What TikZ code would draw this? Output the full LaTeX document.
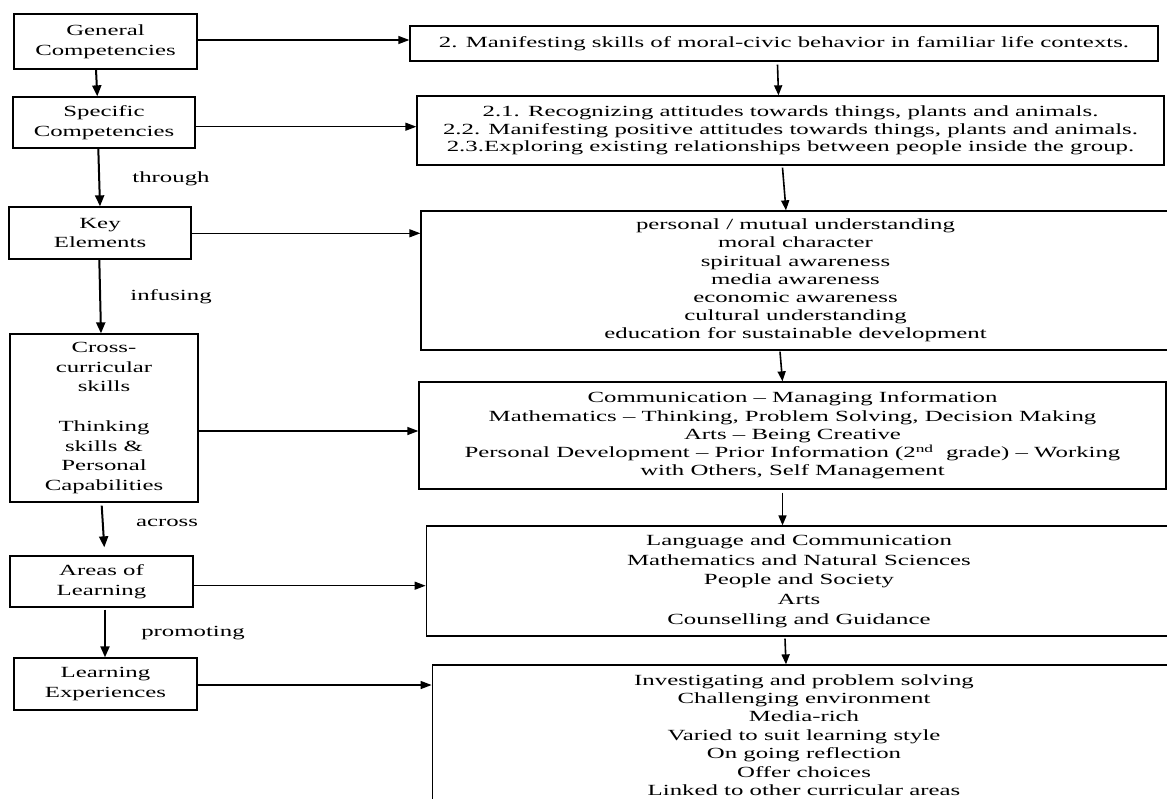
\documentclass[tikz,border=0pt]{standalone}
\usepackage{fontspec}
\setmainfont{Liberation Serif}[FakeStretch=1.6]
\usetikzlibrary{arrows.meta,calc}
\begin{document}
\begin{tikzpicture}[x=1pt,y=-1pt,
  lbox/.style={draw,line width=1.3pt,inner sep=0pt,align=center,font=\fontsize{15.5}{19.7}\selectfont},
  rbox/.style={draw,line width=1.3pt,inner sep=0pt,align=center,font=\fontsize{15.5}{18.2}\selectfont},
  lbl/.style={inner sep=0pt,font=\fontsize{15.5}{18}\selectfont},
  harr/.style={line width=1.3pt,-{Triangle[length=11pt,width=8pt]}},
  varr/.style={line width=2pt,-{Triangle[length=11pt,width=9pt]}},
  rarr/.style={line width=1.6pt,-{Triangle[length=10pt,width=8pt]}}]
\clip (0,0) rectangle (1167,798);
\fill[white] (0,0) rectangle (1167,798);
% left column
\node[lbox,minimum width=183pt,minimum height=55pt] (GC) at (105.5,41.5) {General\\Competencies};
\node[lbox,minimum width=182pt,minimum height=51pt] (SC) at (104,122.5) {Specific\\Competencies};
\node[lbox,minimum width=182pt,minimum height=52pt] (KE) at (100,233) {Key\\Elements};
\node[lbox,minimum width=188pt,minimum height=168pt] (CC) at (104,418) {Cross-\\curricular\\skills\\[19.7pt]Thinking\\skills \&\\Personal\\Capabilities};
\node[lbox,minimum width=183pt,minimum height=51pt] (AL) at (101.5,581.5) {Areas of\\Learning};
\node[lbox,minimum width=183pt,minimum height=52pt] (LE) at (105.5,684) {Learning\\Experiences};
% right column
\node[rbox,minimum width=748pt,minimum height=35pt] (R1) at (784,43.5) {2. Manifesting skills of moral-civic behavior in familiar life contexts.};
\node[rbox,font=\fontsize{15.5}{17.6}\selectfont,minimum width=747pt,minimum height=69pt] (R2) at (790.5,130.5) {2.1. Recognizing attitudes towards things, plants and animals.\\2.2. Manifesting positive attitudes towards things, plants and animals.\\2.3.Exploring existing relationships between people inside the group.};
\node[rbox,minimum width=749pt,minimum height=139pt] (R3) at (795.5,280.5) {personal / mutual understanding\\moral character\\spiritual awareness\\media awareness\\economic awareness\\cultural understanding\\education for sustainable development};
\node[rbox,minimum width=747pt,minimum height=107pt] (R4) at (792.5,435.5) {Communication -- Managing Information\\Mathematics -- Thinking, Problem Solving, Decision Making\\Arts -- Being Creative\\Personal Development -- Prior Information (2\textsuperscript{nd}\ \ grade) -- Working\\with Others, Self Management};
\node[rbox,font=\fontsize{15.5}{19.7}\selectfont,minimum width=745.5pt,minimum height=110pt] (R5) at (799,581) {Language and Communication\\Mathematics and Natural Sciences\\People and Society\\Arts\\Counselling and Guidance};
\node[rbox,font=\fontsize{15.5}{18.4}\selectfont,minimum width=743.5pt,minimum height=140pt] (R6) at (804,735) {Investigating and problem solving\\Challenging environment\\Media-rich\\Varied to suit learning style\\On going reflection\\Offer choices\\Linked to other curricular areas};
% labels
\node[lbl] (t1) at (171,179) {through};
\node[lbl] (t2) at (171,297) {infusing};
\node[lbl] (t3) at (167,523) {across};
\node[lbl] (t4) at (193,633) {promoting};
% horizontal arrows
\draw[harr] (GC.east |- 0,40) -- (R1.west |- 0,40);
\draw[harr] (SC.east |- 0,126.7) -- (R2.west |- 0,126.7);
\draw[harr] (KE.east |- 0,233.3) -- (R3.west |- 0,233.3);
\draw[harr] (CC.east |- 0,431) -- (R4.west |- 0,431);
\draw[harr] (AL.east |- 0,585.7) -- (R5.west |- 0,585.7);
\draw[harr] (LE.east |- 0,685) -- (R6.west |- 0,685);
% left vertical arrows
\draw[varr] (GC.south -| 96,0) -- (SC.north -| 97.3,0);
\draw[varr] (SC.south -| 98.3,0) -- (KE.north -| 100,0);
\draw[varr] (KE.south -| 99.3,0) -- (CC.north -| 101,0);
\draw[varr] ([yshift=-3pt]CC.south -| 101.7,0) -- ([yshift=8pt]AL.north -| 104.3,0);
\draw[varr] ([yshift=-2pt]AL.south -| 105,0) -- (LE.north -| 105,0);
% right vertical arrows
\draw[rarr] ([yshift=-3pt]R1.south -| 777.5,0) -- (R2.north -| 778.5,0);
\draw[rarr] ([yshift=-2pt]R2.south -| 782.5,0) -- (R3.north -| 786,0);
\draw[rarr] ([yshift=-1pt]R3.south -| 780,0) -- (R4.north -| 782.5,0);
\draw[rarr] ([yshift=-3pt]R4.south -| 782.5,0) -- (R5.north -| 782.5,0);
\draw[rarr] ([yshift=-2pt]R5.south -| 785,0) -- (R6.north -| 786,0);
\end{tikzpicture}
\end{document}
